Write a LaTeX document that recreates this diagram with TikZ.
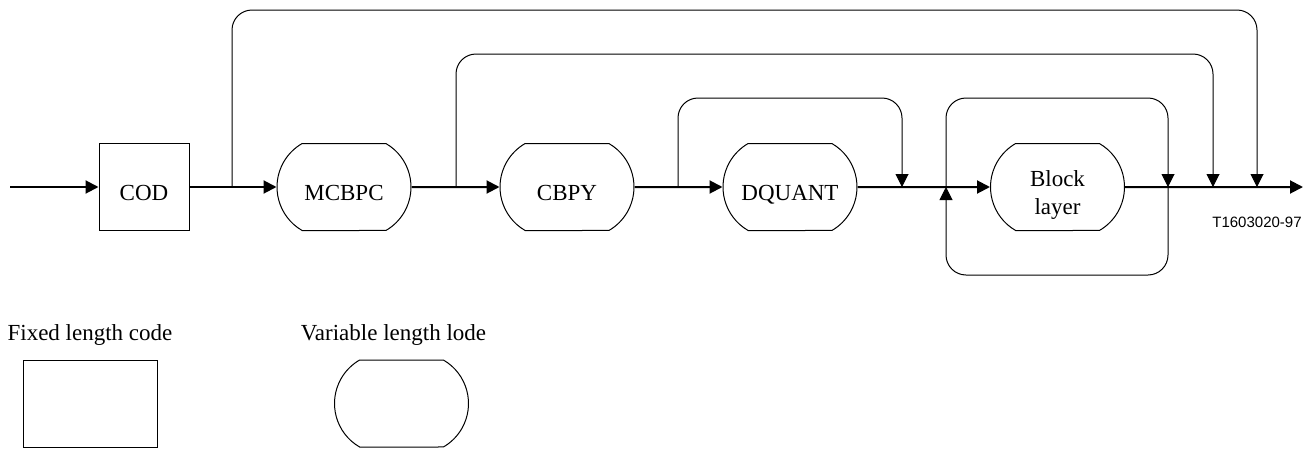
\documentclass[tikz,border=0pt]{standalone}
\usepackage{fontspec}
\setmainfont{Liberation Serif}
\newfontfamily\labelsans{Liberation Sans}
\usetikzlibrary{arrows.meta,shapes.misc}
\begin{document}
\begin{tikzpicture}[x=0.5pt,y=-0.5pt,
  txt/.style={font=\fontsize{11.5pt}{14pt}\selectfont, inner sep=0pt},
  flc/.style={draw, line width=0.5pt, minimum width=45pt, minimum height=43.5pt, inner sep=0pt, font=\fontsize{11.5pt}{14pt}\selectfont, text height=13.5pt, text depth=0pt},
  vlc/.style={draw, rounded rectangle, rounded rectangle arc length=120, line width=0.5pt, minimum width=67pt, minimum height=43.5pt, inner sep=0pt, align=center, font=\fontsize{11.5pt}{14pt}\selectfont, text height=13.5pt, text depth=0pt},
  mainline/.style={line width=1pt, -{Triangle[length=6.5pt,width=6.5pt]}},
  branch/.style={line width=0.5pt, rounded corners=10pt, -{Triangle[length=6.5pt,width=6.5pt]}},
]
\useasboundingbox (0,0) rectangle (1314,450);

% main chain
\coordinate (in) at (10,187);
\node[flc] (cod) at (144,187) {COD};
\node[vlc] (mcbpc) at (344,187) {MCBPC};
\node[vlc] (cbpy) at (567,187) {CBPY};
\node[vlc] (dquant) at (790,187) {DQUANT};
\node[vlc, text height=27.5pt, text depth=0pt] (block) at (1057.5,187) {Block\\layer};
\coordinate (out) at (1303,187);

\draw[mainline] (in) -- (cod);
\draw[mainline] (cod) -- (mcbpc);
\draw[mainline] (mcbpc) -- (cbpy);
\draw[mainline] (cbpy) -- (dquant);
\draw[mainline] (dquant) -- (block);
\draw[mainline] (block) -- (out);

% junctions
\coordinate (j1) at (232,187);
\coordinate (j2) at (456,187);
\coordinate (j3) at (678,187);
\coordinate (t3) at (902,187);
\coordinate (lb) at (946,187);
\coordinate (rb) at (1168,187);
\coordinate (t2) at (1213,187);
\coordinate (t1) at (1257,187);

% skip branches
\draw[branch] (j1) -- (232,10) -- (1257,10) -- (t1);
\draw[branch] (j2) -- (456,54) -- (1213,54) -- (t2);
\draw[branch] (j3) -- (678,98) -- (902,98) -- (t3);

% block layer loop
\draw[branch] (lb) -- (946,98) -- (1168,98) -- (rb);
\draw[branch] (rb) -- (1168,275) -- (946,275) -- (lb);

\node[font=\labelsans\fontsize{7.5pt}{9pt}\selectfont, inner sep=0pt] (tag) at (1257,222) {T1603020-97};

% legend
\node[txt] (fixtxt) at (90,335) {Fixed length code};
\node[draw, line width=0.5pt, minimum width=67pt, minimum height=43.5pt, inner sep=0pt] (fixbox) at (90,403.5) {};
\node[txt] (vartxt) at (393.5,335) {Variable length lode};
\node[vlc] (varbox) at (401.5,403.5) {};
\end{tikzpicture}
\end{document}
